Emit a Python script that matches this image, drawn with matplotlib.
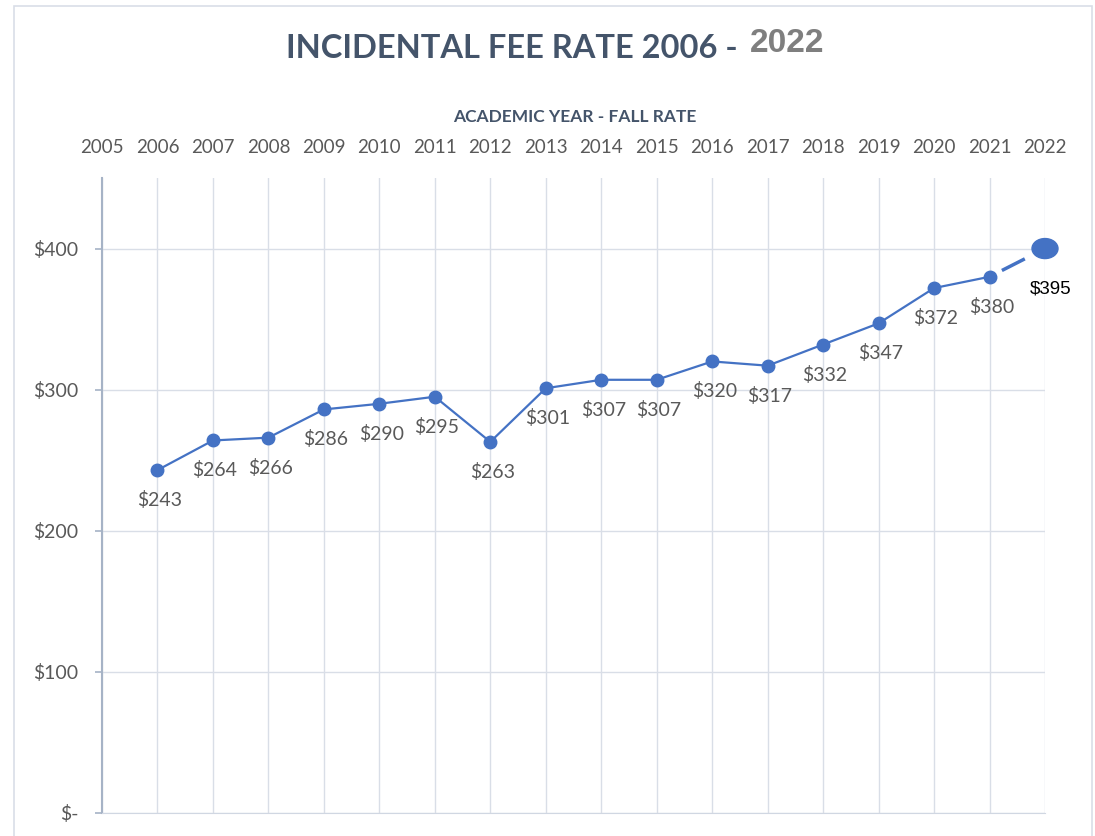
import matplotlib.pyplot as plt
from matplotlib.patches import Rectangle, Ellipse
from matplotlib.ticker import FuncFormatter

years = list(range(2006, 2023))
fees = [243, 264, 266, 286, 290, 295, 263, 301, 307, 307, 320, 317, 332, 347, 372, 380, 400]
fee_labels = ['$243', '$264', '$266', '$286', '$290', '$295', '$263', '$301', '$307',
              '$307', '$320', '$317', '$332', '$347', '$372', '$380', '$395']
tick_years = list(range(2005, 2023))
y_ticks = [0, 100, 200, 300, 400]

line_col = '#4472C4'
text_col = '#595959'
title_col = '#44546A'
font = 'Lato'

fig = plt.figure(figsize=(10.95, 8.36), dpi=100)
# outer chart frame
fig.patches.append(Rectangle((14 / 1095, -0.05), (1092 - 14) / 1095, 1.05 - 6 / 836,
                             transform=fig.transFigure, fill=False,
                             edgecolor='#D9DEE7', linewidth=1.2))

ax = fig.add_axes([102 / 1095, 23 / 836, (1045 - 102) / 1095, (813 - 178) / 836])
ax.set_xlim(2005, 2022)
ax.set_ylim(0, 450)

# solid part up to 2021, dashed segment to the 2022 point
ax.plot(years[:-1], fees[:-1], color=line_col, lw=1.6, marker='o', ms=9, zorder=3)
ax.plot(years[-2:], fees[-2:], color=line_col, lw=2.5, ls=(7.4, (7.4, 4)),
        solid_capstyle='butt', zorder=2)
ax.add_patch(Ellipse((years[-1], fees[-1]), 26 / 55.5, 20 / 1.411,
                     color=line_col, zorder=4, clip_on=False))

for i, (yr, v, lab) in enumerate(zip(years, fees, fee_labels)):
    if i == len(years) - 1:
        ax.annotate(lab, (yr, v), xytext=(6, -40), textcoords='offset pixels',
                    ha='center', va='center', fontsize=13.5, color='black',
                    family='Liberation Sans', annotation_clip=False)
    else:
        ax.annotate(lab, (yr, v), xytext=(2, -30), textcoords='offset pixels',
                    ha='center', va='center', fontsize=14, color=text_col, family=font)

ax.set_xticks(tick_years)
ax.set_xticklabels([str(y) for y in tick_years], family=font, fontsize=13.5, color=text_col)
ax.xaxis.tick_top()
ax.tick_params(axis='x', length=0, pad=16)
ax.set_yticks(y_ticks)
ax.yaxis.set_major_formatter(FuncFormatter(lambda v, p: '$-' if v == 0 else f'${v:.0f}'))
for t in ax.get_yticklabels():
    t.set_family(font)
    t.set_fontsize(14)
    t.set_color(text_col)
ax.tick_params(axis='y', length=5, color='#A6B3C6', width=1.2, pad=12)

ax.grid(True, color='#D9DEE7', lw=1)
ax.set_axisbelow(True)
for s in ['top', 'right']:
    ax.spines[s].set_visible(False)
ax.spines['left'].set_color('#A6B3C6')
ax.spines['left'].set_linewidth(1.5)
ax.spines['bottom'].set_color('#D0D7E2')

fig.text(738 / 1095, 1 - 48 / 836, 'INCIDENTAL FEE RATE 2006 -', ha='right', va='center',
         fontsize=23.5, fontweight='bold', color=title_col, family=font)
fig.text(750 / 1095, 1 - 44 / 836, '2022', ha='left', va='center',
         fontsize=24, fontweight='bold', color='#7F7F7F', family='Liberation Sans')
fig.text(575 / 1095, 1 - 117 / 836, 'ACADEMIC YEAR - FALL RATE', ha='center', va='center',
         fontsize=12.5, fontweight='bold', color=title_col, family=font)

fig.savefig('out.png', dpi=100)
